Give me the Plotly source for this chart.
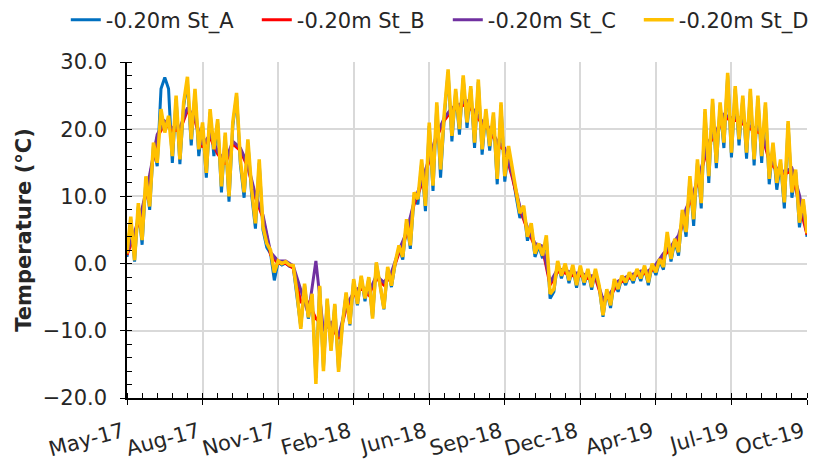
import pandas as pd
import plotly.graph_objects as go

# daily record of soil temperature at -0.20 m, sampled here every 5 / 10 days
start_date = "2017-05-01"
end_date = "2019-10-18"

st_a = [1.0, 6.5, 0.3, 8.5, 2.8, 12.5, 8.0, 17.5, 14.5, 26.0,
        27.7, 26.0, 15.0, 24.5, 14.8, 23.5, 27.0, 17.6, 25.5, 16.0,
        20.5, 12.8, 22.5, 16.0, 21.0, 10.6, 19.0, 9.2, 20.5, 25.0,
        14.8, 9.8, 18.0, 10.2, 5.2, 15.0, 5.0, 2.4, 1.5, -2.5,
        0.2, -0.2, 0.1, -0.4, -0.5, -4.6, -9.4, -3.2, -8.2, -4.8,
        -17.0, -3.5, -15.5, -5.4, -12.8, -6.2, -15.8, -9.0, -4.5, -9.2,
        -2.5, -6.2, -2.0, -5.6, -2.2, -8.0, 0.0, -3.2, -6.8, -0.7,
        -3.5, 0.0, 2.4, 0.6, 6.2, 2.2, 10.2, 8.8, 15.0, 7.8,
        20.5, 10.8, 23.5, 12.8, 22.0, 28.5, 18.2, 25.6, 19.2, 27.6,
        20.2, 26.0, 17.2, 27.0, 16.2, 22.6, 16.8, 22.0, 11.8, 23.6,
        12.2, 17.0, 13.2, 10.0, 6.8, 8.2, 3.4, 5.6, 1.0, 2.6,
        0.8, 3.8, -5.2, -4.2, 0.1, -2.2, -0.3, -2.9, -0.5, -3.6,
        -0.6, -3.2, -1.1, -3.9, -1.1, -3.6, -7.9, -4.1, -6.6, -2.6,
        -4.2, -2.1, -3.2, -1.6, -2.9, -1.1, -2.6, -0.6, -3.2, -0.3,
        -1.7, 0.4, -0.9, 4.2, 0.3, 3.3, 1.2, 7.5, 4.0, 12.5,
        5.6, 15.0, 8.2, 22.5, 12.0, 24.0, 14.2, 23.5, 17.2, 28.0,
        15.8, 26.0, 17.6, 24.6, 15.6, 25.6, 14.6, 24.6, 15.0, 23.6,
        11.8, 17.6, 11.0, 15.0, 8.2, 20.8, 9.8, 13.6, 5.4, 9.2,
        4.0]

st_b = [1.3, 4.3, 7.8, 12.8, 18.8, 20.8, 19.8, 19.8, 22.8, 21.3,
        17.3, 18.8, 16.3, 14.8, 17.8, 16.8, 14.3, 9.8, 6.8, 1.3,
        0.0, 0.0, -0.7, -5.7, -5.7, -8.2, -9.2, -9.2, -11.2, -6.7,
        -4.7, -3.7, -4.7, -2.2, -3.2, -1.7, 1.6, 4.3, 8.8, 11.8,
        15.3, 18.8, 21.3, 22.8, 23.3, 23.8, 22.3, 20.8, 19.8, 17.8,
        16.8, 12.8, 8.1, 5.0, 2.6, 2.2, -3.2, -1.2, -1.4, -1.8,
        -1.8, -2.2, -2.2, -5.7, -4.7, -3.0, -2.4, -1.9, -1.5, -1.5,
        -0.5, 1.1, 2.2, 3.8, 7.8, 10.3, 13.8, 17.8, 19.3, 21.8,
        21.3, 21.3, 20.3, 19.8, 19.3, 15.3, 13.8, 13.3, 13.8, 8.8,
        4.3]

st_c = [1.7, 4.7, 8.2, 13.2, 19.2, 21.2, 20.2, 20.2, 23.2, 21.7,
        17.7, 19.2, 16.7, 15.2, 18.2, 17.2, 14.7, 10.2, 7.2, 1.7,
        0.4, 0.4, -0.3, -4.0, -7.5, 0.4, -10.0, -8.8, -10.8, -6.3,
        -4.3, -3.3, -4.3, -1.8, -2.8, -1.3, 2.0, 4.7, 9.2, 12.2,
        15.7, 19.2, 21.7, 23.2, 23.7, 24.2, 22.7, 21.2, 20.2, 18.2,
        17.2, 13.2, 8.5, 5.4, 3.0, 2.6, -2.8, -0.8, -1.0, -1.4,
        -1.4, -1.8, -1.8, -5.3, -4.3, -2.6, -2.0, -1.5, -1.1, -1.1,
        -0.1, 1.5, 2.6, 4.2, 8.2, 10.7, 14.2, 18.2, 19.7, 22.2,
        21.7, 21.7, 20.7, 20.2, 19.7, 15.7, 14.2, 13.7, 14.2, 10.2,
        4.7]

st_d = [1.5, 7.0, 0.5, 9.0, 3.5, 13.0, 8.5, 18.0, 15.0, 23.0,
        19.5, 22.0, 16.0, 25.0, 15.5, 24.0, 27.8, 18.5, 26.0, 17.0,
        21.0, 13.5, 23.0, 17.0, 21.5, 11.5, 19.5, 10.0, 21.0, 25.4,
        15.5, 10.6, 18.5, 11.0, 6.0, 15.5, 5.5, 3.0, 2.0, -1.3,
        0.4, 0.0, 0.3, -0.2, -0.3, -4.3, -9.7, -3.0, -8.0, -4.5,
        -17.9, -3.3, -16.0, -5.2, -13.0, -6.0, -16.1, -9.2, -4.3, -9.0,
        -2.3, -6.0, -1.8, -5.2, -2.0, -8.2, 0.2, -3.0, -6.7, -0.5,
        -3.3, 0.2, 2.7, 1.0, 6.6, 2.7, 10.6, 9.6, 15.5, 8.6,
        21.0, 11.6, 24.0, 14.0, 22.5, 28.9, 19.0, 26.0, 20.0, 28.0,
        21.0, 26.4, 18.0, 27.4, 17.0, 23.0, 17.5, 22.5, 12.6, 24.0,
        13.0, 17.5, 14.0, 10.5, 7.5, 8.6, 4.0, 6.0, 1.5, 3.0,
        1.2, 4.2, -4.5, -3.8, 0.4, -1.8, 0.0, -2.5, -0.2, -3.2,
        -0.3, -2.8, -0.8, -3.5, -0.8, -3.3, -7.7, -3.8, -6.2, -2.3,
        -3.8, -1.8, -2.8, -1.3, -2.5, -0.8, -2.2, -0.3, -2.8, 0.0,
        -1.3, 0.7, -0.5, 4.7, 0.7, 3.7, 1.7, 8.0, 4.7, 13.0,
        6.6, 15.5, 9.0, 23.0, 13.0, 24.5, 15.0, 24.0, 18.0, 28.4,
        16.5, 26.4, 18.5, 25.0, 16.5, 26.0, 15.5, 25.0, 16.0, 24.0,
        12.6, 18.0, 12.0, 15.5, 9.1, 21.2, 10.6, 14.0, 6.1, 9.6,
        4.5]

names = ["-0.20m St_A", "-0.20m St_B", "-0.20m St_C", "-0.20m St_D"]
colors = ["#0070C0", "#FF0000", "#7030A0", "#FFC000"]
widths = [3, 3, 3, 3.5]

dates_5 = pd.date_range(start_date, periods=len(st_a), freq="5D")
dates_10 = pd.date_range(start_date, periods=len(st_b), freq="10D")
tick_dates = pd.date_range(start_date, end_date, freq="100D")

FONT = "DejaVu Sans"
TXT = "#262626"

fig = go.Figure()
for name, color, w, x, y in zip(names, colors, widths,
                                [dates_5, dates_10, dates_10, dates_5],
                                [st_a, st_b, st_c, st_d]):
    fig.add_trace(go.Scatter(x=x, y=y, mode="lines", name=name,
                             line=dict(color=color, width=w)))

# the page body adds an 8px offset, margins are trimmed for it
fig.update_layout(
    width=825, height=469,
    margin=dict(l=119, r=26, t=54, b=79, autoexpand=False),
    plot_bgcolor="white", paper_bgcolor="white",
    font=dict(family=FONT, size=20, color=TXT),
    legend=dict(orientation="h", xref="paper", yref="paper",
                x=-0.09, y=1.186, xanchor="left", yanchor="top",
                entrywidth=146, font=dict(size=21, color=TXT)),
    showlegend=True,
)

fig.update_xaxes(
    type="date", range=[start_date, end_date], automargin=False,
    tickvals=tick_dates, tickformat="%b-%y", tickangle=-15,
    tickfont=dict(size=21),
    showgrid=True, gridcolor="#d9d9d9", gridwidth=1.5,
    showline=True, linecolor="black", linewidth=1.5,
    ticks="outside", ticklen=5, tickcolor="black",
    ticklabelstandoff=7, ticklabelshift=-4,
    minor=dict(dtick=20 * 86400000, tick0=start_date, ticks="inside",
               ticklen=5, tickcolor="black", showgrid=False),
)

fig.update_yaxes(
    range=[-20, 30], dtick=10, tickformat=".1f", automargin=False,
    tickfont=dict(size=21),
    showgrid=True, gridcolor="#d9d9d9", gridwidth=1.5, zeroline=False,
    showline=True, linecolor="black", linewidth=1.5,
    ticks="outside", ticklen=5, tickcolor="black",
    ticklabelstandoff=9,
    minor=dict(dtick=2, ticks="inside", ticklen=5, tickcolor="black",
               showgrid=False),
    title=dict(text="<b>Temperature (°C)</b>", font=dict(size=21),
               standoff=5),
)

fig.write_html("out.html")
